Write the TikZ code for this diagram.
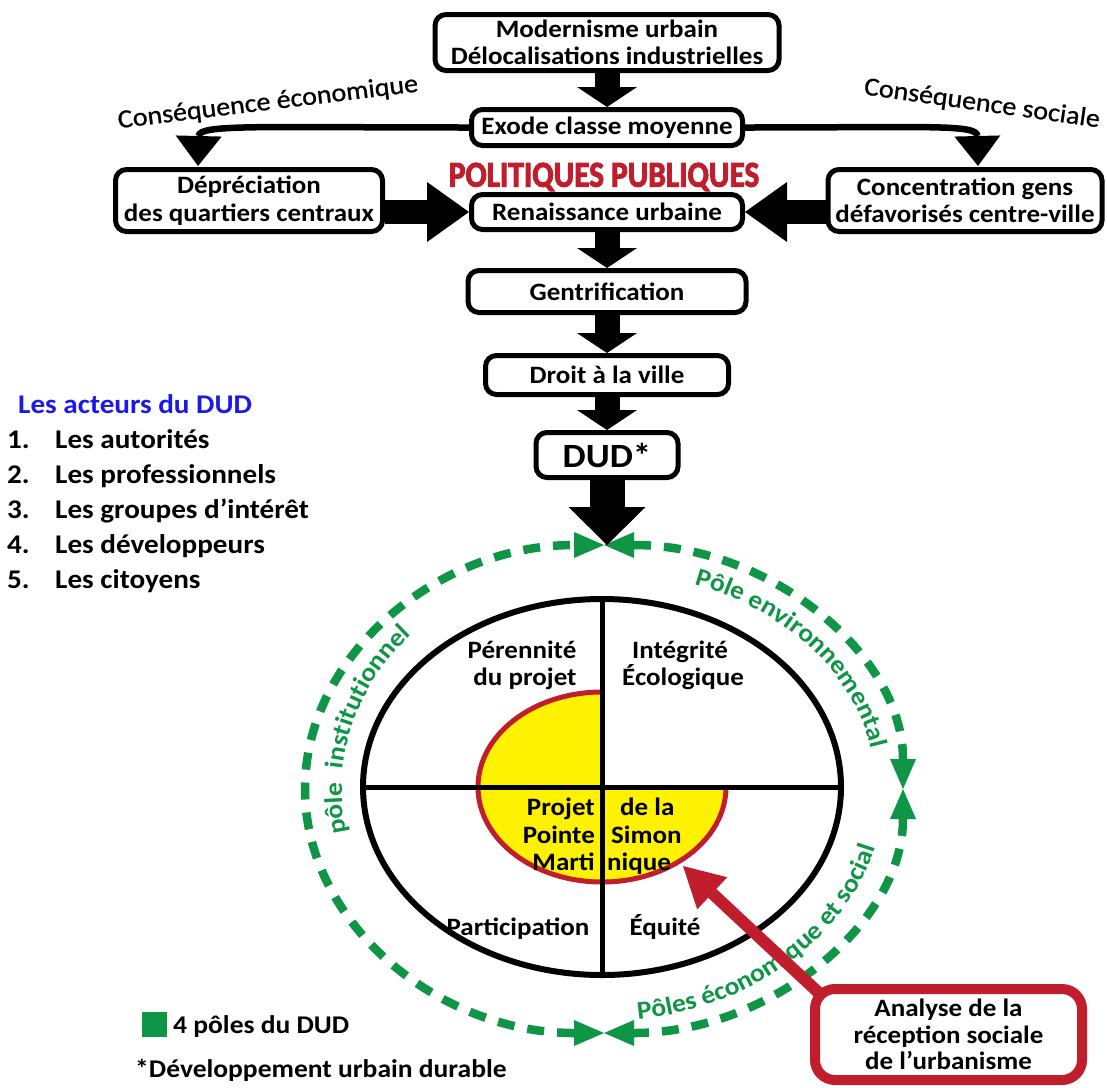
\documentclass[tikz,border=0pt]{standalone}
\usepackage{fontspec}
\setmainfont{Carlito}[FakeStretch=1.08]
\newfontfamily\heavyfont{Carlito}[FakeBold=3]
\newfontfamily\medfont{Carlito}[FakeStretch=1.08,FakeBold=0.8]
\usetikzlibrary{arrows.meta,decorations.text,calc}
\definecolor{dgreen}{RGB}{14,150,70}
\definecolor{dred}{RGB}{192,30,45}
\definecolor{dblue}{RGB}{25,25,235}
\definecolor{dyellow}{RGB}{255,242,0}
\newcommand\bxf{\fontsize{25}{27.5}\selectfont\bfseries}
\newcommand\lstf{\fontsize{27}{30}\selectfont\bfseries}
\newcommand\cirf{\fontsize{25}{27}\selectfont\bfseries}
\newcommand\ringf{\fontsize{25.5}{25.5}\selectfont\bfseries}
\begin{document}
\begin{tikzpicture}[x=1pt,y=1pt,
  box/.style={draw, line width=5pt, rounded corners=11pt, inner sep=0pt, align=center, font=\bxf},
  varrow/.style={line width=25pt, -{Triangle[length=20pt,width=60pt,line width=0pt]}},
  harrow/.style={line width=24pt, -{Triangle[length=42pt,width=60pt,line width=0pt]}},
  bigarrow/.style={line width=35pt, -{Triangle[length=38pt,width=77pt,line width=0pt]}},
  curvearrow/.style={line width=6.5pt, -{Triangle[length=30pt,width=46pt,line width=0pt]}},
  ring/.style={dgreen, line width=8.5pt, dash pattern=on 17pt off 13pt,
     {Triangle[length=30pt,width=26pt,line width=0pt]}-{Triangle[length=30pt,width=26pt,line width=0pt]}},
  txt/.style={inner sep=0pt},
  lb/.style={anchor=base west, inner sep=0pt, font=\lstf},
  cb/.style={anchor=base, inner sep=0pt, font=\cirf}]
\useasboundingbox (0,0) rectangle (1107,-1087);
\fill[white] (0,0) rectangle (1107,-1087);

% ---- flow boxes
\node[box, minimum width=344pt, minimum height=56pt] (top) at (607,-42.5) {Modernisme urbain\\Délocalisations industrielles};
\node[box, minimum width=271pt, minimum height=36pt] (exode) at (607,-127.5) {Exode classe moyenne};
\node[box, minimum width=267pt, minimum height=62pt] (dep) at (249,-200.5) {Dépréciation\\des quartiers centraux};
\node[box, minimum width=274pt, minimum height=62pt] (conc) at (965,-200.5) {Concentration gens\\défavorisés centre-ville};
\node[box, minimum width=271pt, minimum height=35pt] (ren) at (607,-212) {Renaissance urbaine};
\node[box, minimum width=278pt, minimum height=42pt] (gen) at (607,-291.5) {Gentrification};
\node[box, minimum width=243pt, minimum height=39pt] (droit) at (607,-375) {Droit à la ville};
\node[box, minimum width=142pt, minimum height=45pt, font=\fontsize{34}{36}\selectfont\bfseries] (dud) at (607,-455) {DUD*};

\node[txt, font=\heavyfont\bfseries\fontsize{33}{33}\selectfont, text=dred] (pp) at (604,-177) {\scalebox{0.95}[1.1]{POLITIQUES PUBLIQUES}};
\node[txt, font=\medfont\fontsize{26}{26}\selectfont, rotate=7] (ceco) at (268,-103) {Conséquence économique};
\node[txt, font=\medfont\fontsize{26}{26}\selectfont, rotate=-8] (csoc) at (982,-104) {Conséquence sociale};

% ---- flow connectors
\draw[varrow] (top.south) -- (exode.north);
\draw[varrow] (ren.south) -- (gen.north);
\draw[varrow] (gen.south) -- (droit.north);
\draw[varrow] (droit.south) -- (dud.north);
\draw[harrow] (dep.east |- ren.west) -- (ren.west);
\draw[harrow] (conc.west |- ren.east) -- (ren.east);
\coordinate (depin) at (198,-166);
\coordinate (concin) at (978,-166);
\draw[curvearrow] (exode.west) .. controls (260,-127.5) and (199,-124) .. (depin);
\draw[curvearrow] (exode.east) .. controls (930,-127.5) and (977,-124) .. (concin);

% ---- actors list
\node[lb, text=dblue] (acteurs) at (18,-413) {Les acteurs du DUD};
\node[lb] (n1) at (7,-448) {1.};  \node[lb] (i1) at (55,-448) {Les autorités};
\node[lb] (n2) at (7,-483) {2.};  \node[lb] (i2) at (55,-483) {Les professionnels};
\node[lb] (n3) at (7,-518) {3.};  \node[lb] (i3) at (55,-518) {Les groupes d’intérêt};
\node[lb] (n4) at (7,-553) {4.};  \node[lb] (i4) at (55,-553) {Les développeurs};
\node[lb] (n5) at (7,-588) {5.};  \node[lb] (i5) at (55,-588) {Les citoyens};

% ---- green ring
\coordinate (ringtop) at (604,-545);
\draw[ring] (604,-545) arc[start angle=90,end angle=0,x radius=299,y radius=244];
\draw[ring] (903,-789) arc[start angle=0,end angle=-90,x radius=299,y radius=244];
\draw[ring] (604,-1033) arc[start angle=270,end angle=90,x radius=299,y radius=244];
\draw[bigarrow] (dud.south) -- (dud.south |- ringtop);

% ---- inner ellipse
\fill[dyellow] (602,-787) -- (602,-692) arc[start angle=90,end angle=360,x radius=124,y radius=95] -- cycle;
\draw[dred, line width=5pt] (602,-692) arc[start angle=90,end angle=360,x radius=124,y radius=95];
\draw[line width=5pt] (363,-787) -- (841,-787);
\draw[line width=5pt] (602,-599) -- (602,-975);
\draw[line width=6pt] (602,-787) ellipse[x radius=239, y radius=188];

\node[cb] (per1) at (522,-658) {Pérennité};
\node[cb] (per2) at (525,-685) {du projet};
\node[cb] (int1) at (680,-658) {Intégrité};
\node[cb] (int2) at (683,-685) {Écologique};
\node[cb] (par) at (518,-935) {Participation};
\node[cb] (equ) at (665,-935) {Équité};
\node[cb, anchor=base east] (c1) at (595,-815) {Projet};
\node[cb, anchor=base east] (c2) at (595,-843) {Pointe};
\node[cb, anchor=base east] (c3) at (595,-870) {Marti};
\node[cb, anchor=base west] (c4) at (620,-815) {de la};
\node[cb, anchor=base west] (c5) at (611,-843) {Simon};
\node[cb, anchor=base west] (c6) at (607,-870) {nique};

% ---- ring labels
\path[decorate, decoration={text along path, text={|\ringf|Pôle environnemental}, text align=center, text color=dgreen}]
  ([shift={(76:272 and 217)}]604,-789) arc[start angle=76, end angle=4, x radius=272, y radius=217];
\path[decorate, decoration={text along path, text={|\ringf|pôle}, text align=left, text color=dgreen}]
  ([shift={(191:262 and 228)}]604,-789) arc[start angle=191, end angle=170, x radius=262, y radius=228];
\path[decorate, decoration={text along path, text={|\ringf|institutionnel}, text align=left, text color=dgreen}]
  ([shift={(175:262 and 228)}]604,-789) arc[start angle=175, end angle=120, x radius=262, y radius=228];
\path[decorate, decoration={text along path, text={|\ringf|Pôles économique et social}, text align=left, text color=dgreen}]
  ([shift={(277:280 and 232)}]604,-789) arc[start angle=277, end angle=368, x radius=280, y radius=232];

% ---- red box and arrow
\node[draw=dred, line width=10pt, rounded corners=20pt, minimum width=267pt, minimum height=91pt, inner sep=0pt, align=center, font=\fontsize{25}{26.5}\selectfont\bfseries] (rbox) at (948.5,-1034.5) {Analyse de la\\réception sociale\\de l’urbanisme};
\coordinate (projtip) at (683,-866);
\draw[dred, line width=12pt, -{Triangle[length=40pt,width=44pt,line width=0pt]}] ($(rbox.north west)+(10,-10)$) -- (projtip);

% ---- legend
\node[fill=dgreen, minimum size=25pt, inner sep=0pt] (lsq) at (154.5,-1024) {};
\node[anchor=base west, inner sep=0pt, font=\fontsize{25.5}{25.5}\selectfont\bfseries] (ltxt) at (173,-1033) {4 pôles du DUD};
\node[anchor=base west, inner sep=0pt, font=\fontsize{25.5}{25.5}\selectfont\bfseries] (dev) at (135,-1077) {*Développement urbain durable};
\end{tikzpicture}
\end{document}
